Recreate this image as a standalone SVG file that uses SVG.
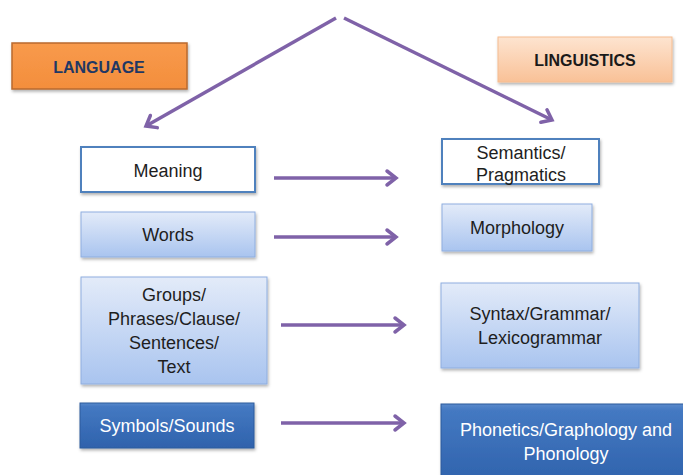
<svg xmlns="http://www.w3.org/2000/svg" width="683" height="475" viewBox="0 0 683 475">
  <defs>
    <linearGradient id="gLight" x1="0" y1="0" x2="0" y2="1">
      <stop offset="0" stop-color="#E3EBF9"/>
      <stop offset="1" stop-color="#A9C4EF"/>
    </linearGradient>
    <linearGradient id="gDark" x1="0" y1="0" x2="0" y2="1">
      <stop offset="0" stop-color="#5A8ACB"/>
      <stop offset="0.08" stop-color="#4479C2"/>
      <stop offset="1" stop-color="#2F62AC"/>
    </linearGradient>
    <linearGradient id="gOrange" x1="0" y1="0" x2="0" y2="1">
      <stop offset="0" stop-color="#F89A4C"/>
      <stop offset="1" stop-color="#F38E3C"/>
    </linearGradient>
    <linearGradient id="gPeach" x1="0" y1="0" x2="0" y2="1">
      <stop offset="0" stop-color="#FDE4D0"/>
      <stop offset="1" stop-color="#F9C197"/>
    </linearGradient>
    <filter id="shadow" x="-10%" y="-10%" width="125%" height="135%">
      <feDropShadow dx="1" dy="2" stdDeviation="1.5" flood-color="#000" flood-opacity="0.3"/>
    </filter>
    <marker id="arrow" markerUnits="userSpaceOnUse" markerWidth="20" markerHeight="20" refX="12" refY="8" orient="auto" overflow="visible">
      <path d="M3,1 L12,8 L3,15" fill="none" stroke="#7F62A8" stroke-width="3.5" stroke-linecap="round" stroke-linejoin="miter"/>
    </marker>
    <style>
      .t { font-family: "Liberation Sans", Arial, sans-serif; font-size: 18px; fill: #1E1E1E; text-anchor: middle; }
      .tw { fill: #FFFFFF; }
      .hd { font-family: "Liberation Sans", Arial, sans-serif; font-size: 16px; font-weight: bold; text-anchor: middle; }
      .white { fill: #FFFFFF; stroke: #4F81BD; stroke-width: 2; }
      .light { fill: url(#gLight); stroke: #8FAEDF; stroke-width: 1; }
      .dark { fill: url(#gDark); stroke: #2C5A9C; stroke-width: 1; }
      .conn { fill: none; stroke: #7F62A8; stroke-width: 3.5; marker-end: url(#arrow); }
    </style>
  </defs>

  <rect width="683" height="475" fill="#FFFFFF"/>

  <g id="language">
    <rect x="12" y="43" width="175" height="46" fill="url(#gOrange)" stroke="#B96A2E" stroke-width="1.5" filter="url(#shadow)"/>
    <text class="hd" x="99" y="73" fill="#1F3864">LANGUAGE</text>
  </g>

  <g id="linguistics">
    <rect x="498" y="37" width="174" height="45" fill="url(#gPeach)" stroke="#F6BC90" stroke-width="1" filter="url(#shadow)"/>
    <text class="hd" x="585" y="66" fill="#1A1A1A">LINGUISTICS</text>
  </g>

  <g id="meaning">
    <rect class="white" x="81" y="147" width="174" height="45" filter="url(#shadow)"/>
    <text class="t" x="168" y="177">Meaning</text>
  </g>

  <g id="semantics">
    <rect class="white" x="442" y="139" width="157" height="45" filter="url(#shadow)"/>
    <text class="t" x="521" y="159">Semantics/</text>
    <text class="t" x="521" y="181">Pragmatics</text>
  </g>

  <g id="words">
    <rect class="light" x="81" y="212" width="174" height="45" filter="url(#shadow)"/>
    <text class="t" x="168" y="241">Words</text>
  </g>

  <g id="morphology">
    <rect class="light" x="442" y="204" width="150" height="47" filter="url(#shadow)"/>
    <text class="t" x="517" y="234">Morphology</text>
  </g>

  <g id="groups">
    <rect class="light" x="81" y="277" width="186" height="107" filter="url(#shadow)"/>
    <text class="t" x="174" y="301">Groups/</text>
    <text class="t" x="174" y="325">Phrases/Clause/</text>
    <text class="t" x="174" y="349">Sentences/</text>
    <text class="t" x="174" y="373">Text</text>
  </g>

  <g id="syntax">
    <rect class="light" x="441" y="283" width="198" height="85" filter="url(#shadow)"/>
    <text class="t" x="540" y="320">Syntax/Grammar/</text>
    <text class="t" x="540" y="344">Lexicogrammar</text>
  </g>

  <g id="symbols">
    <rect class="dark" x="80" y="403" width="174" height="45" filter="url(#shadow)"/>
    <text class="t tw" x="167" y="432">Symbols/Sounds</text>
  </g>

  <g id="phonetics">
    <rect class="dark" x="441" y="404" width="250" height="80" filter="url(#shadow)"/>
    <text class="t tw" x="566" y="436">Phonetics/Graphology and</text>
    <text class="t tw" x="566" y="460">Phonology</text>
  </g>

  <g id="connectors">
    <line class="conn" x1="336" y1="18" x2="146" y2="126"/>
    <line class="conn" x1="344" y1="18" x2="552" y2="120"/>
    <line class="conn" x1="274" y1="178" x2="396" y2="178"/>
    <line class="conn" x1="274" y1="237" x2="396" y2="237"/>
    <line class="conn" x1="281" y1="325" x2="404" y2="325"/>
    <line class="conn" x1="281" y1="423" x2="404" y2="423"/>
  </g>
</svg>
